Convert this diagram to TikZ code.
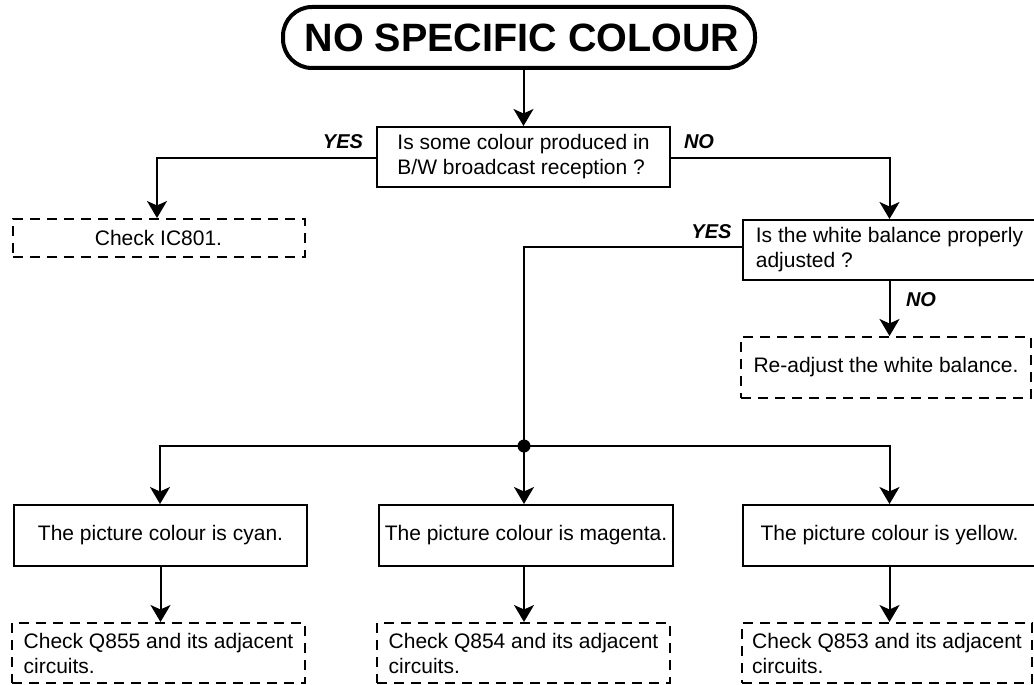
\documentclass[tikz,border=0pt]{standalone}
\usepackage{fontspec}
\setmainfont{Liberation Sans}
\usetikzlibrary{arrows.meta}
\tikzset{
  box/.style={draw, line width=2pt, inner sep=0pt, align=left, font=\fontsize{21}{25}\selectfont, minimum width=293pt, minimum height=60pt},
  dbox/.style={box, dash pattern=on 10pt off 7pt},
  lab/.style={font=\fontsize{20}{24}\selectfont\bfseries\itshape, inner sep=0pt},
  arr/.style={line width=2pt, -{Stealth[length=17pt,width=20pt,inset=4.5pt]}},
  ln/.style={line width=2pt}
}
\begin{document}
\begin{tikzpicture}[x=1pt,y=-1pt]
\useasboundingbox (0,0) rectangle (1034,685);
\node[draw, line width=4pt, rounded corners=29pt, minimum width=472pt, minimum height=61pt, inner sep=0pt,
      font=\fontsize{39.5}{44}\selectfont\bfseries] (title) at (519,37.5) {\hspace*{6pt}NO SPECIFIC COLOUR};
\node[box] (q1) at (523.5,157) {Is some colour produced in\\B/W broadcast reception ?};
\node[dbox, minimum width=292pt, minimum height=38pt] (ic) at (158.5,238) {Check IC801.};
\node[box] (q2) at (889.5,250) {Is the white balance properly\\adjusted ?};
\node[dbox, minimum width=290pt, minimum height=61pt] (re) at (886,367.5) {Re-adjust the white balance.};
\node[box, minimum height=61pt] (cy) at (160.5,535.5) {The picture colour is cyan.};
\node[box, minimum width=294pt, minimum height=61pt] (ma) at (526,535.5) {The picture colour is magenta.};
\node[box, minimum height=61pt] (ye) at (889.5,535.5) {The picture colour is yellow.};
\node[dbox] (c5) at (158.5,653) {Check Q855 and its adjacent\\circuits.};
\node[dbox] (c4) at (523.5,653) {Check Q854 and its adjacent\\circuits.};
\node[dbox, minimum width=290pt] (c3) at (887,653) {Check Q853 and its adjacent\\circuits.};
\coordinate (j) at (524,446);
\node[lab] (y1) at (343,142) {YES};
\node[lab] (n1) at (699,142) {NO};
\node[lab] (y2) at (711.5,232) {YES};
\node[lab] (n2) at (921,300) {NO};
\draw[arr] (title.south -| q1.north) -- (q1.north);
\draw[arr] ([yshift=-1pt]q1.west) -| ([xshift=-1.5pt]ic.north);
\draw[arr] ([yshift=-1pt]q1.east) -| (q2.north);
\draw[ln] ([yshift=3pt]q2.west) -| (j);
\draw[arr] (q2.south) -- (q2.south |- re.north);
\fill (j) circle (6.5pt);
\draw[arr] (j) -| ([xshift=-0.5pt]cy.north);
\draw[arr] (j) -- (j |- ma.north);
\draw[arr] (j) -| (ye.north);
\draw[arr] (cy.south) -- (cy.south |- c5.north);
\draw[arr] (ma.south -| j) -- (j |- c4.north);
\draw[arr] (ye.south) -- (ye.south |- c3.north);
\end{tikzpicture}
\end{document}
